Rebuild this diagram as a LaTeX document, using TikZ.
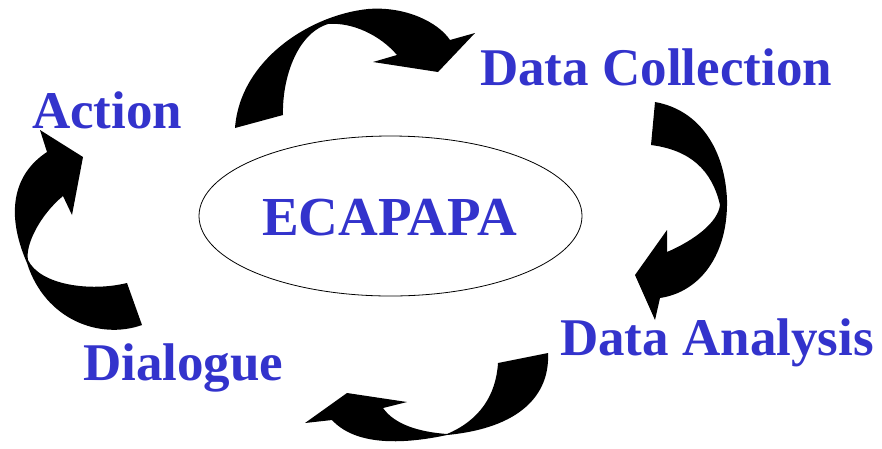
\documentclass[tikz,border=0pt]{standalone}
\usepackage{fontspec}
\setmainfont{Liberation Serif}
\usetikzlibrary{shapes.geometric}
\definecolor{lblblue}{HTML}{3333CC}
\begin{document}
\begin{tikzpicture}[x=1pt,y=-1pt,
  lbl/.style={anchor=base west,inner sep=0pt,text=lblblue,font=\fontsize{53}{60}\selectfont\bfseries},
  bigarrow/.style={fill=black,draw=none}]
\useasboundingbox (0,0) rectangle (882,448);
% center ellipse
\node[draw=black,line width=0.8pt,ellipse,minimum width=383pt,minimum height=160pt,inner sep=0pt] (core) at (390.5,216) {};
\node[lbl,font=\fontsize{55}{60}\selectfont\bfseries] (ecap) at (262,235) {ECAPAPA};
% labels
\node[lbl] (coll) at (480,85) {Data Collection};
\node[lbl] (act) at (32,128) {Action};
\node[lbl] (anal) at (560,355) {Data Analysis};
\node[lbl] (dial) at (83,380) {Dialogue};
% top arrow (Action -> Data Collection)
\path[bigarrow] (235,128) .. controls (240,60) and (310,15) .. (368,9)
  .. controls (405,6) and (438,22) .. (450,40) -- (475,33) -- (438,72) -- (373,62) -- (397,55)
  .. controls (380,35) and (352,22) .. (328,24)
  .. controls (296,34) and (282,80) .. (283,115) -- cycle;
% right arrow (Data Collection -> Data Analysis)
\path[bigarrow] (655,102) .. controls (700,110) and (725,150) .. (727,200)
  .. controls (728,255) and (700,292) .. (660,298) -- (655,320) -- (635,275) -- (667,230) -- (667,252)
  .. controls (695,240) and (718,222) .. (720,205)
  .. controls (712,170) and (690,150) .. (651,145) -- cycle;
% bottom arrow (Data Analysis -> Dialogue)
\path[bigarrow] (548,353) .. controls (550,395) and (520,428) .. (447,435)
  .. controls (400,445) and (355,445) .. (332,420) -- (305,423) -- (347,393) -- (407,402) -- (383,408)
  .. controls (395,425) and (420,432) .. (447,434)
  .. controls (480,420) and (496,395) .. (498,363) -- cycle;
% left arrow (Dialogue -> Action)
\path[bigarrow] (142,325) .. controls (100,340) and (45,320) .. (27,263)
  .. controls (6,215) and (12,175) .. (47,152) -- (40,130) -- (83,157) -- (72,215) -- (63,196)
  .. controls (40,215) and (25,245) .. (28,260)
  .. controls (40,285) and (90,292) .. (127,283) -- cycle;
\end{tikzpicture}
\end{document}
